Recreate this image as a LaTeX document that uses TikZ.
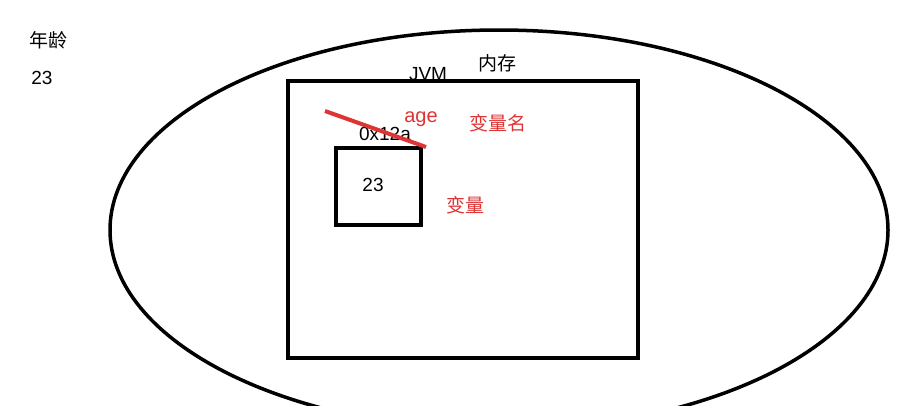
\documentclass[tikz,border=0pt]{standalone}
\usepackage{fontspec}
\usetikzlibrary{shapes.geometric}
\setmainfont{Liberation Sans}
\newfontfamily\cjk{Noto Sans CJK SC}
\definecolor{markred}{RGB}{222,52,52}
\tikzset{
  lbl/.style={inner sep=0pt, font=\fontsize{19}{22}\selectfont},
  cjklbl/.style={inner sep=0pt, font=\cjk\fontsize{19}{22}\selectfont},
  redlbl/.style={cjklbl, text=markred}
}
\begin{document}
\begin{tikzpicture}[x=1pt,y=-1pt]
\useasboundingbox (0,0) rectangle (904,405);
\clip (0,0) rectangle (904,405);

\node[draw, ellipse, line width=3.5pt, minimum width=778pt, minimum height=400pt, inner sep=0pt] (jvm) at (499,230) {};

\node[lbl] (jvmname) at (428,74.5) {JVM};
\node[cjklbl] (mem) at (497,63) {内存};

\node[draw, line width=4pt, fill=white, minimum width=350pt, minimum height=277pt, inner sep=0pt] (heap) at (463,219.5) {};

\node[cjklbl] (title) at (48,40) {年龄};
\node[lbl] (value) at (42,78) {23};

\node[lbl] (addr) at (385,134) {0x12a};
\node[draw, line width=4pt, minimum width=85pt, minimum height=77pt, inner sep=0pt] (cell) at (378.5,186.5) {};
\node[lbl] (cellval) at (373,185) {23};

\coordinate (s1) at (325,111);
\coordinate (s2) at (426,147);
\draw[markred, line width=4pt] (s1) -- (s2);

\node[lbl, text=markred, font=\fontsize{20}{22}\selectfont] (varname) at (421,119) {age};
\node[redlbl] (namelbl) at (498,123) {变量名};
\node[redlbl] (varlbl) at (465,205) {变量};
\end{tikzpicture}
\end{document}
